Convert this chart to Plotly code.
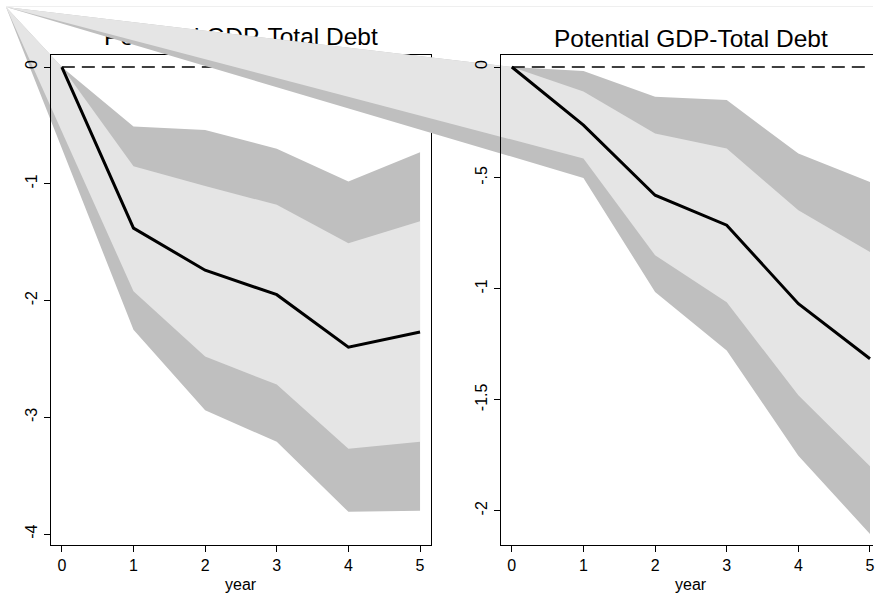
import plotly.graph_objects as go

W, H = 875, 594

# ---- data -------------------------------------------------------------
years = [0, 1, 2, 3, 4, 5]

# Left panel: impulse response with 68% (inner) and 90% (outer) bands
left_mean = [0, -1.38, -1.74, -1.95, -2.40, -2.27]
left_outer_hi = [0, -0.51, -0.54, -0.70, -0.98, -0.73]
left_inner_hi = [0, -0.85, -1.02, -1.18, -1.51, -1.32]
left_inner_lo = [0, -1.92, -2.48, -2.72, -3.27, -3.21]
left_outer_lo = [0, -2.25, -2.94, -3.21, -3.81, -3.80]

# Right panel
right_mean = [0, -0.262, -0.578, -0.713, -1.067, -1.315]
right_outer_hi = [0, -0.018, -0.134, -0.149, -0.390, -0.518]
right_inner_hi = [0, -0.110, -0.300, -0.367, -0.646, -0.834]
right_inner_lo = [0, -0.412, -0.849, -1.060, -1.480, -1.800]
right_outer_lo = [0, -0.500, -1.014, -1.278, -1.752, -2.105]

panel_title = "Potential GDP-Total Debt"
x_title = "year"
x_ticks = [0, 1, 2, 3, 4, 5]
left_ytick_vals = [0, -1, -2, -3, -4]
left_ytick_text = ["0", "-1", "-2", "-3", "-4"]
right_ytick_vals = [0, -0.5, -1, -1.5, -2]
right_ytick_text = ["0", "-.5", "-1", "-1.5", "-2"]

# ---- styling / layout geometry -----------------------------------------
FONT = "Liberation Sans, Arial, sans-serif"
DARK = "#bfbfbf"
LIGHT = "#e5e5e5"
TITLE_SIZE = 24.5
TICK_SIZE = 16

# boxes in pixels: (left, right, top, bottom)
LEFT_BOX = (51, 432, 55, 545)
RIGHT_BOX = (502, 875, 55, 545)
OUTER_BOX = (6, 875, 7, 594)
TITLE_Y_PX = 39

LEFT_XR = [-0.153, 5.153]
LEFT_YR = [-4.094, 0.103]
RIGHT_XR = [-0.153, 5.042]
RIGHT_YR = [-2.1546, 0.0541]


def dom_x(box):
    return [box[0] / W, box[1] / W]


def dom_y(box):
    return [1 - box[3] / H, 1 - box[2] / H]


def extend(rng, inner, outer):
    """Range for an axis spanning `outer` that shares the scale of an axis
    spanning `inner` with range `rng` (domains in paper units)."""
    k = (inner[1] - inner[0]) / (rng[1] - rng[0])
    return [rng[0] - (inner[0] - outer[0]) / k,
            rng[1] + (outer[1] - inner[1]) / k]


ov_xdom, ov_ydom = dom_x(OUTER_BOX), dom_y(OUTER_BOX)
lx_dom, ly_dom = dom_x(LEFT_BOX), dom_y(LEFT_BOX)
rx_dom, ry_dom = dom_x(RIGHT_BOX), dom_y(RIGHT_BOX)

left_ov_xr = extend(LEFT_XR, lx_dom, ov_xdom)
left_ov_yr = extend(LEFT_YR, ly_dom, ov_ydom)
right_ov_xr = extend(RIGHT_XR, rx_dom, ov_xdom)
right_ov_yr = extend(RIGHT_YR, ry_dom, ov_ydom)


def band(upper, lower, corner):
    # polygon closes through the graph-region corner instead of year 0
    xs = years + years[:0:-1] + [corner[0]]
    ys = upper + lower[:0:-1] + [corner[1]]
    return xs, ys


fig = go.Figure()

# left bands (drawn on full-region axes sharing the left panel scale)
lc = (left_ov_xr[0], left_ov_yr[1])
for up, lo, col in [(left_outer_hi, left_outer_lo, DARK),
                    (left_inner_hi, left_inner_lo, LIGHT)]:
    xs, ys = band(up, lo, lc)
    fig.add_trace(go.Scatter(x=xs, y=ys, mode="lines", fill="toself",
                             fillcolor=col, line=dict(width=0, color=col),
                             xaxis="x", yaxis="y", hoverinfo="skip"))

# left panel title, on the same full-region axes
ky_left = (LEFT_BOX[3] - LEFT_BOX[2]) / (LEFT_YR[1] - LEFT_YR[0])
fig.add_trace(go.Scatter(x=[sum(LEFT_XR) / 2],
                         y=[LEFT_YR[1] + (LEFT_BOX[2] - TITLE_Y_PX) / ky_left],
                         mode="text", text=[panel_title],
                         textposition="middle center",
                         textfont=dict(family=FONT, size=TITLE_SIZE,
                                       color="black"),
                         xaxis="x", yaxis="y"))

# left panel contents
fig.add_trace(go.Scatter(x=[years[0], years[-1]], y=[0, 0], mode="lines",
                         line=dict(color="black", width=1.6, dash="13px,7px"),
                         xaxis="x2", yaxis="y2"))
fig.add_trace(go.Scatter(x=years, y=left_mean, mode="lines",
                         line=dict(color="black", width=3),
                         xaxis="x2", yaxis="y2"))

# right bands
rc = (right_ov_xr[0], right_ov_yr[1])
for up, lo, col in [(right_outer_hi, right_outer_lo, DARK),
                    (right_inner_hi, right_inner_lo, LIGHT)]:
    xs, ys = band(up, lo, rc)
    fig.add_trace(go.Scatter(x=xs, y=ys, mode="lines", fill="toself",
                             fillcolor=col, line=dict(width=0, color=col),
                             xaxis="x3", yaxis="y3", hoverinfo="skip"))

# right panel contents
fig.add_trace(go.Scatter(x=[years[0], years[-1]], y=[0, 0], mode="lines",
                         line=dict(color="black", width=1.6, dash="13px,7px"),
                         xaxis="x4", yaxis="y4"))
fig.add_trace(go.Scatter(x=years, y=right_mean, mode="lines",
                         line=dict(color="black", width=3),
                         xaxis="x4", yaxis="y4"))

hidden = dict(showgrid=False, zeroline=False, showticklabels=False,
              ticks="", fixedrange=True)
panel_axis = dict(showgrid=False, zeroline=False, showline=True,
                  linecolor="black", linewidth=1.2, ticks="outside",
                  ticklen=6, tickwidth=1.2, tickcolor="black",
                  ticklabeloverflow="allow",
                  tickfont=dict(family=FONT, size=TICK_SIZE, color="black"))

fig.update_layout(
    width=W, height=H, margin=dict(l=0, r=0, t=0, b=0),
    paper_bgcolor="white", plot_bgcolor="rgba(0,0,0,0)",
    showlegend=False,
    xaxis=dict(domain=ov_xdom, range=left_ov_xr, anchor="y",
               showline=True, side="top", linecolor="#efefef", linewidth=1,
               **hidden),
    yaxis=dict(domain=ov_ydom, range=left_ov_yr, anchor="x", **hidden),
    xaxis2=dict(domain=lx_dom, range=LEFT_XR, anchor="y2", mirror=True,
                tickvals=x_ticks, **panel_axis),
    yaxis2=dict(domain=ly_dom, range=LEFT_YR, anchor="x2", mirror=True,
                tickvals=left_ytick_vals, ticktext=left_ytick_text,
                tickangle=-90, **panel_axis),
    xaxis3=dict(domain=ov_xdom, range=right_ov_xr, anchor="y3", **hidden),
    yaxis3=dict(domain=ov_ydom, range=right_ov_yr, anchor="x3", **hidden),
    xaxis4=dict(domain=rx_dom, range=RIGHT_XR, anchor="y4", mirror=True,
                tickvals=x_ticks, **panel_axis),
    yaxis4=dict(domain=ry_dom, range=RIGHT_YR, anchor="x4", mirror=False,
                tickvals=right_ytick_vals, ticktext=right_ytick_text,
                tickangle=-90, **panel_axis),
)

fig.add_annotation(x=692.5 / W, y=1 - TITLE_Y_PX / H, xref="paper",
                   yref="paper", text=panel_title, showarrow=False,
                   xanchor="center", yanchor="middle",
                   font=dict(family=FONT, size=TITLE_SIZE, color="black"))
for cx in [(LEFT_BOX[0] + LEFT_BOX[1]) / 2, 692.5]:
    fig.add_annotation(x=cx / W, y=1 - 584 / H, xref="paper", yref="paper",
                       text=x_title, showarrow=False, xanchor="center",
                       yanchor="middle",
                       font=dict(family=FONT, size=16, color="black"))

fig.write_html("out.html")
